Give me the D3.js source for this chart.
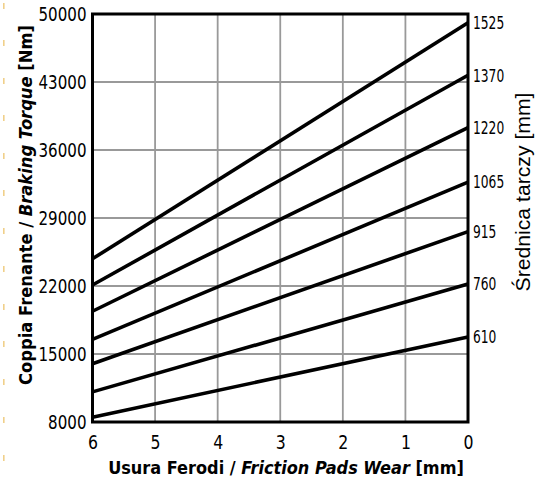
<!DOCTYPE html>
<html><head><meta charset="utf-8">
<script src="https://cdn.jsdelivr.net/npm/d3@7"></script>
<style>body{margin:0;background:#fff}</style>
</head><body>
<svg id="c" width="550" height="479"></svg>
<script>
const wearTicks = [6,5,4,3,2,1,0];
const torqueTicks = [8000,15000,22000,29000,36000,43000,50000];
const diameters = [1525,1370,1220,1065,915,760,610];
const torqueAtWear6 = [24800,22100,19400,16500,14000,11100,8500];
const torqueAtWear0 = [49100,43700,38300,32700,27600,22200,16750];

const svg = d3.select("#c");
const L=92.5, R=468, T=14, B=422;
const x = d3.scaleLinear().domain([6,0]).range([L,R]);
const y = d3.scaleLinear().domain([8000,50000]).range([B,T]);

// decorative marks at far left
const marks = [6,43,81,118,156,193,231,269,307,344,382,420,458];
svg.selectAll("rect.m").data(marks).enter().append("rect")
  .attr("x",3).attr("y",d=>d-3).attr("width",1.6).attr("height",6).attr("fill","#f0d08a");

// grid
const g = svg.append("g");
g.selectAll("line.h").data(torqueTicks.slice(1,-1)).enter().append("line")
  .attr("x1",L).attr("x2",R).attr("y1",d=>y(d)).attr("y2",d=>y(d))
  .attr("stroke","#999").attr("stroke-width",1.8);
g.selectAll("line.v").data(wearTicks.slice(1,-1)).enter().append("line")
  .attr("y1",T).attr("y2",B).attr("x1",d=>x(d)).attr("x2",d=>x(d))
  .attr("stroke","#999").attr("stroke-width",1.8);

// series lines
const series = diameters.map((d,i)=>({d, pts:[[6,torqueAtWear6[i]],[0,torqueAtWear0[i]]]}));
const line = d3.line().x(p=>x(p[0])).y(p=>y(p[1]));
svg.selectAll("path.s").data(series).enter().append("path")
  .attr("d",s=>line(s.pts)).attr("fill","none").attr("stroke","#000").attr("stroke-width",3.6);

// frame
svg.append("rect").attr("x",L).attr("y",T).attr("width",R-L).attr("height",B-T)
  .attr("fill","none").attr("stroke","#000").attr("stroke-width",3);

const font = "'DejaVu Sans', sans-serif";
// left axis labels
const ya = d3.axisLeft(y).tickValues(torqueTicks).tickSize(0).tickPadding(5).tickFormat(d3.format("d"));
const yag = svg.append("g").attr("transform",`translate(${L-1},0)`).call(ya);
yag.select(".domain").remove();
yag.selectAll("text").attr("font-family",font).attr("font-size",19).attr("fill","#000")
  .attr("textLength",function(){return this.textContent.length*9.6;}).attr("lengthAdjust","spacingAndGlyphs");

// bottom axis labels
const xa = d3.axisBottom(x).tickValues(wearTicks).tickSize(0).tickPadding(14).tickFormat(d3.format("d"));
const xag = svg.append("g").attr("transform",`translate(0,${B})`).call(xa);
xag.select(".domain").remove();
xag.selectAll("text").attr("font-family",font).attr("font-size",19).attr("fill","#000")
  .attr("textLength",10).attr("lengthAdjust","spacingAndGlyphs");

// right labels at line ends
svg.selectAll("text.r").data(series).enter().append("text")
  .attr("x",R+5).attr("y",s=>y(s.pts[1][1])).attr("dy","0.35em")
  .attr("font-family",font).attr("font-size",18).attr("fill","#000")
  .attr("textLength",s=>String(s.d).length*7.8).attr("lengthAdjust","spacingAndGlyphs").text(s=>s.d);

// axis titles, horizontally condensed via scale to match reference widths
function title(tx, ty, rot, target, parts, fam, size, weight){
  const grp = svg.append("g");
  const t = grp.append("text").attr("text-anchor","middle").attr("font-family",fam)
    .attr("font-size",size).attr("font-weight",weight);
  parts.forEach(p=>{ const s=t.append("tspan").text(p[0]); if(p[1]) s.attr("font-style","italic"); });
  const w = t.node().getComputedTextLength();
  grp.attr("transform",`translate(${tx},${ty}) rotate(${rot}) scale(${target/w},1)`);
}
title(32,205,-90,360,[["Coppia Frenante / "],["Braking Torque",1],[" [Nm]"]],font,18,"bold");
title(286,474,0,356,[["Usura Ferodi / "],["Friction Pads Wear",1],[" [mm]"]],font,18,"bold");
title(530,192,-90,199,[["Średnica tarczy [mm]"]],"'Liberation Sans', Arial, sans-serif",20,"normal");
</script>
</body></html>
